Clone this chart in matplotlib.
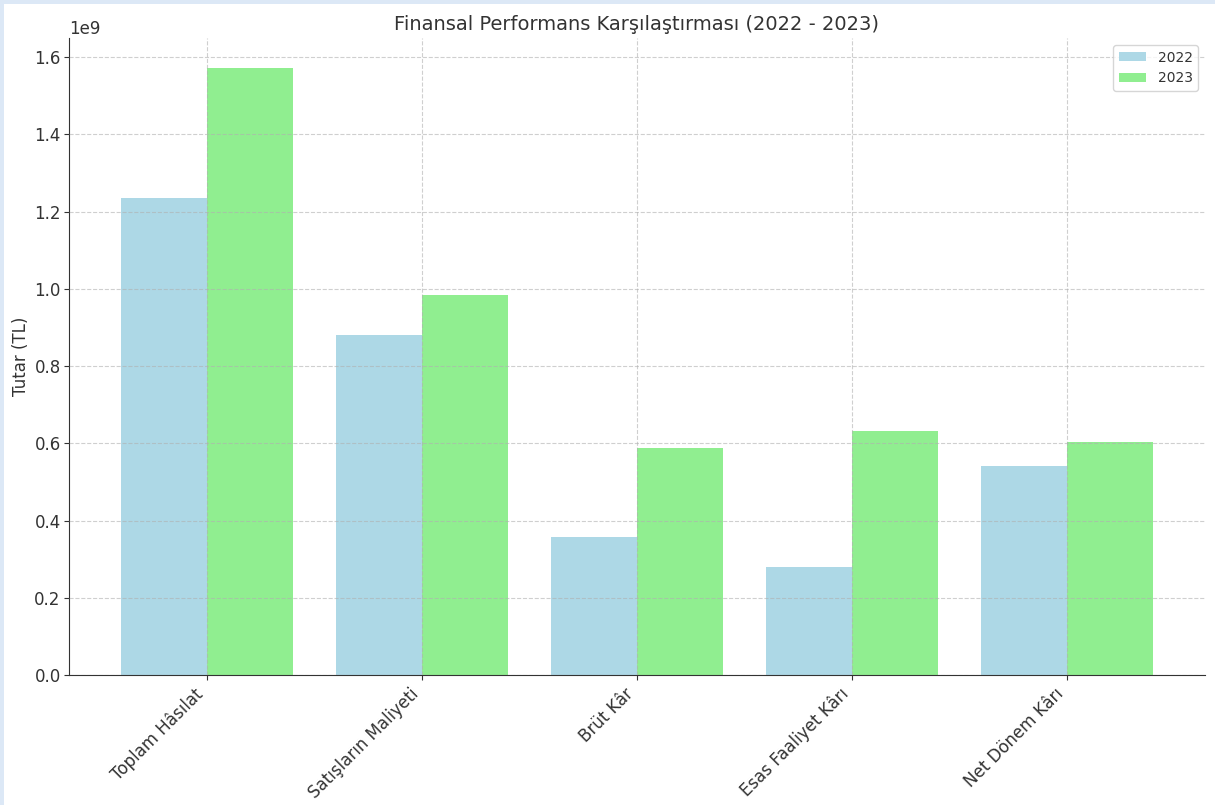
import matplotlib
matplotlib.use("Agg")
import matplotlib.pyplot as plt
import numpy as np
from matplotlib.patches import Rectangle

categories = ["Toplam Hâsılat", "Satışların Maliyeti", "Brüt Kâr", "Esas Faaliyet Kârı", "Net Dönem Kârı"]
values_2022 = [1.235e9, 0.880e9, 0.357e9, 0.280e9, 0.541e9]
values_2023 = [1.571e9, 0.984e9, 0.588e9, 0.632e9, 0.603e9]

text_color = "#333333"
plt.rcParams.update({
    "font.family": "DejaVu Sans",
    "text.color": text_color,
    "axes.labelcolor": text_color,
    "xtick.color": text_color,
    "ytick.color": text_color,
    "axes.edgecolor": text_color,
})

fig = plt.figure(figsize=(12.15, 8.05), dpi=100)
fig.patch.set_facecolor("#dce8f6")
fig.patches.append(Rectangle((4/1215, 0), 1, 1 - 4/805, transform=fig.transFigure,
                             facecolor="white", edgecolor="none", zorder=-10))
ax = fig.add_axes([69/1215, 1 - 675/805, (1205 - 69)/1215, (675 - 38)/805])

x = np.arange(len(categories))
w = 0.4
ax.bar(x - w/2, values_2022, w, color="lightblue", label="2022")
ax.bar(x + w/2, values_2023, w, color="lightgreen", label="2023")

ax.set_xticks(x)
ax.set_xticklabels(categories, rotation=45, ha="right", fontsize=12)
ax.tick_params(axis="y", labelsize=12, pad=2.5)
ax.set_ylabel("Tutar (TL)", fontsize=12, labelpad=3)
ax.set_title("Finansal Performans Karşılaştırması (2022 - 2023)", fontsize=14, color=text_color)
ax.yaxis.get_offset_text().set_fontsize(12)

ax.set_axisbelow(False)
ax.grid(True, linestyle="--", color="#b0b0b0", linewidth=0.8, alpha=0.6)
for s in ["top", "right"]:
    ax.spines[s].set_visible(False)
ax.legend(loc="upper right", fontsize=10)

fig.savefig("out.png", dpi=100, facecolor=fig.get_facecolor())
